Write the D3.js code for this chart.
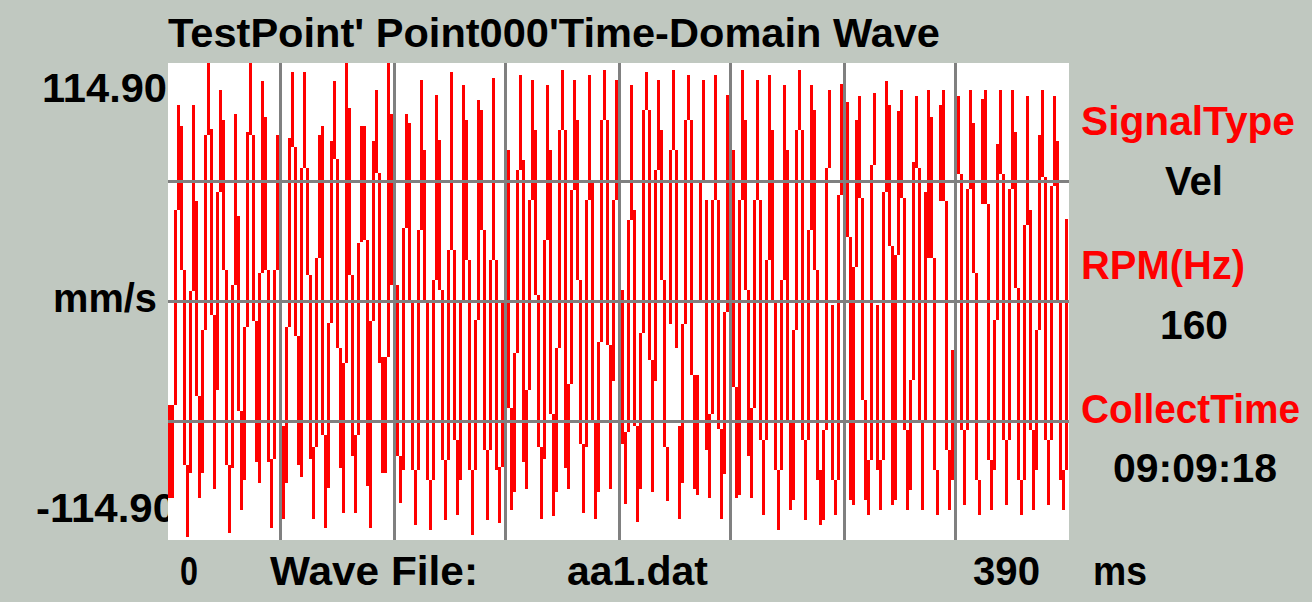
<!DOCTYPE html>
<html>
<head>
<meta charset="utf-8">
<script src="https://cdn.jsdelivr.net/npm/d3@7"></script>
<style>
  html, body { margin: 0; padding: 0; background: #c0c8c0; }
  svg { display: block; }
  text { font-family: "Liberation Sans", Arial, sans-serif; font-weight: bold; font-size: 41px; }
</style>
</head>
<body>
<svg id="chart" width="1312" height="602"></svg>
<script>
'use strict';

var title = "TestPoint' Point000'Time-Domain Wave";
var yLimit = 114.9;          // mm/s, full scale
var timeSpan = 390;          // ms
var columnCount = 300;       // one display column = 1.3 ms
var yLabels = ['114.90', 'mm/s', '-114.90'];
var infoLabels = ['SignalType', 'RPM(Hz)', 'CollectTime'];
var infoValues = ['Vel', '160', '09:09:18'];
var footer = ['0', 'Wave File:', 'aa1.dat', '390', 'ms'];

// peak envelope of the wave for each display column (mm/s)
var waveHi = [
  -49.5, -49.5, 43.8, 94.1, 84.0, 15.1, -78.3, 5.0, 94.1, 48.1,
  -45.2, -13.6, 79.7, 114.2, 82.6, -6.5, 52.4, 101.3, 86.9, 15.1,
  -78.3, 7.9, 89.8, 40.9, -52.4, -12.2, 81.1, 114.2, 79.7, -9.3,
  13.6, 105.5, 88.3, 15.1, -75.4, 15.1, 79.7, 100.0, -59.6, -12.2,
  78.3, 109.8, 74.0, -16.5, 63.9, 109.8, 63.9, 12.7, -69.7, 20.8,
  79.7, 84.0, -63.9, -10.3, 76.8, 105.5, 68.2, -22.3, -29.4, 114.2,
  92.6, 12.7, -63.9, 28.0, 84.0, 84.0, 29.4, -9.3, 76.8, 101.3,
  61.5, -26.6, -26.6, 114.2, 89.8, 7.9, 7.9, -74.0, 35.2, 89.8,
  85.5, 0.7, -80.7, 34.2, 106.0, 72.5, 0.7, -85.5, 10.3, 98.9,
  77.3, 5.5, -75.9, 24.7, 109.8, 24.7, -66.3, 0.7, 103.6, 86.9,
  19.9, -80.7, -8.9, 96.5, 91.7, 34.2, -71.1, 19.9, 107.0, 19.9,
  -79.2, 0.7, 101.3, 72.5, -51.0, -24.7, 63.0, 108.4, 67.7, -42.4,
  48.6, 106.0, 82.1, 3.1, -69.7, 29.4, 103.6, 72.5, -53.9, -22.3,
  82.1, 110.8, 82.1, -39.5, 53.4, 106.0, 86.9, 10.3, -68.2, 48.6,
  108.4, 58.2, -58.2, -19.4, 86.9, 110.8, 86.9, -20.8, 48.6, 106.0,
  82.1, 5.5, -62.5, 39.0, 103.6, 43.8, -59.6, -15.1, 91.7, 109.8,
  91.7, -28.0, 63.0, 106.0, 82.1, 10.3, -69.7, 72.5, 110.8, 72.5,
  -59.6, -10.8, 86.9, 108.4, 86.9, -35.2, -35.2, 58.2, 106.0, 48.6,
  -53.9, 48.6, 108.4, 48.6, -61.0, -5.0, 98.9, 113.2, 72.5, -40.9,
  48.6, 110.8, 86.9, 5.5, -51.0, 48.6, 106.0, 48.6, -66.3, 19.9,
  108.4, 82.1, 0.7, -80.7, 10.3, 103.6, 72.5, -56.7, -13.6, 82.1,
  110.8, 82.1, -66.3, 34.2, 103.6, 91.7, 15.1, -80.7, -61.5, 63.9,
  101.3, -1.7, -85.5, 51.0, 104.1, 51.0, 95.5, 30.9, 16.5, 86.9,
  98.4, 49.6, -47.2, -75.9, 65.3, 99.8, -1.7, -75.9, 52.4, 105.6,
  94.1, 26.6, 22.3, 91.2, 101.3, 49.6, -61.5, -37.6, 66.8, 98.4,
  63.9, -56.7, 52.4, 101.3, 88.3, 20.8, -80.7, 94.1, 101.3, 48.1,
  -71.1, -23.2, 72.5, 98.4, 61.0, -61.5, 53.9, 101.3, 85.5, 13.6,
  -85.5, 96.9, 101.3, 46.7, -75.9, -8.9, 75.4, 101.3, 61.0, -66.3,
  53.9, 101.3, 81.1, 6.5, -85.5, 36.6, 98.4, 43.8, -61.5, -13.6,
  79.7, 101.3, 59.6, -66.3, 55.3, 98.4, 76.8, 0.7, -80.7, 39.5
];
var waveLo = [
  -94.1, -94.1, -49.5, 43.8, 15.1, -78.3, -112.7, -82.1, 5.0, -45.2,
  -94.1, -82.1, -13.6, 79.7, -6.5, -89.8, -42.4, 52.4, 15.1, -78.3,
  -110.8, -79.7, 7.9, -52.4, -99.8, -85.5, -12.2, 79.7, -9.3, -76.8,
  -86.9, 13.6, 15.1, -76.8, -108.4, -75.4, 15.1, 20.0, -104.1, -86.9,
  -12.2, 74.0, -16.5, -78.3, -84.0, 63.9, 12.7, -75.4, -104.1, -69.7,
  20.8, -63.9, -108.4, -89.3, -10.3, 68.2, -22.3, -79.7, -101.3, -29.4,
  12.7, -74.0, -101.3, -63.9, 28.5, 29.4, -88.3, -108.4, -9.3, 61.5,
  -29.4, -82.1, -82.1, -26.6, 7.9, -60.0, -74.0, -96.5, -80.5, 35.2,
  0.7, -80.7, -107.0, -80.7, 34.2, 0.7, -85.5, -109.4, -85.5, 10.3,
  5.5, -75.9, -104.6, -75.9, 24.7, -66.3, -102.2, -85.5, 0.7, 19.9,
  -80.7, -111.8, -80.7, -8.9, 34.2, -71.1, -104.6, -71.1, 19.9, -80.7,
  -106.0, -79.2, 0.7, -51.0, -99.8, -91.2, -24.7, 63.0, -76.8, -89.8,
  -42.4, 48.6, 3.1, -69.7, -104.1, -75.4, 29.4, -53.9, -102.7, -91.2,
  -22.3, 82.1, -79.7, -89.8, -39.5, 53.4, 10.3, -68.2, -101.3, -69.7,
  48.6, -58.2, -104.1, -91.2, -19.4, 86.9, -20.8, -89.8, -38.1, 48.6,
  5.5, -68.2, -96.9, -62.5, 39.0, -59.6, -105.6, -89.8, -15.1, 91.7,
  -28.0, -91.2, -38.1, 63.0, 10.3, -69.7, -95.5, -10.8, 72.5, -22.3,
  -104.1, -86.9, -10.8, 86.9, -35.2, -89.8, -92.6, 0.7, 58.2, -71.1,
  -94.1, -53.9, 48.6, -61.0, -104.1, -82.6, -5.0, 72.5, -40.9, -94.1,
  -92.6, 48.6, 5.5, -74.0, -94.1, -51.0, 48.6, -66.3, -102.2, -66.3,
  19.9, 0.7, -80.7, -109.4, -80.7, 10.3, -56.7, -99.8, -95.0, -13.6,
  82.1, -66.3, -104.6, -66.3, 34.2, 15.1, -85.5, -107.0, -104.6, -61.5,
  63.9, -85.5, -102.2, -85.5, 51.0, -47.2, 30.9, -95.0, -97.4, 16.5,
  49.6, -47.2, -95.0, -102.2, -75.9, 65.3, -80.7, -99.8, -75.9, 52.4,
  26.6, -97.4, -95.0, 22.3, 49.6, -61.5, -99.8, -90.2, -37.6, 63.9,
  -56.7, -99.8, -56.7, 20.8, 20.8, -80.7, -102.2, 48.1, 48.1, -71.1,
  -99.8, -85.5, -23.2, 61.0, -61.5, -97.4, -61.5, 53.9, 13.6, -85.5,
  -102.2, 46.7, 46.7, -75.9, -99.8, -80.7, -8.9, 61.0, -66.3, -97.4,
  -66.3, 53.9, 6.5, -85.5, -102.2, -85.5, 36.6, -61.5, -99.8, -80.7,
  -13.6, 59.6, -66.3, -97.4, -66.3, 55.3, 0.7, -85.5, -99.8, -80.7
];

var svg = d3.select('#chart');

var plot = { left: 168, right: 1069, top: 63, bottom: 540 };

var x = d3.scaleLinear()
  .domain([0, timeSpan])
  .range([plot.left, plot.left + 900]);

var y = d3.scaleLinear()
  .domain([-yLimit, yLimit])
  .range([541.5, 61.5]);

var columnMs = timeSpan / columnCount;

// labels left of the plot go first: the plot box covers their right edge
function label(txt, px, py, len, color) {
  svg.append('text')
    .attr('x', px)
    .attr('y', py)
    .attr('fill', color || '#000')
    .attr('textLength', len)
    .attr('lengthAdjust', 'spacingAndGlyphs')
    .text(txt);
}

label(title, 168, 47, 772);
label(yLabels[0], 42, 102, 125);
label(yLabels[1], 53, 312, 104);
label(yLabels[2], 36, 522, 140);

svg.append('rect')
  .attr('x', plot.left)
  .attr('y', plot.top)
  .attr('width', plot.right - plot.left)
  .attr('height', plot.bottom - plot.top)
  .attr('fill', '#fff');

var wave = waveHi.map(function(hi, i) {
  return { t: i * columnMs, hi: hi, lo: waveLo[i] };
});

svg.append('g')
  .attr('class', 'wave')
  .selectAll('rect')
  .data(wave)
  .enter()
  .append('rect')
  .attr('x', function(d) { return Math.round(x(d.t)); })
  .attr('width', Math.round(x(columnMs) - x(0)))
  .attr('y', function(d) { return Math.round(y(d.hi)); })
  .attr('height', function(d) { return Math.max(3, Math.round(y(d.lo) - y(d.hi))); })
  .attr('fill', '#ff0000')
  .attr('shape-rendering', 'crispEdges');

// grid: 8 time divisions, 4 amplitude divisions
var gx = d3.range(1, 8).map(function(i) { return timeSpan * i / 8; });
var gy = [-yLimit / 2, 0, yLimit / 2];

var grid = svg.append('g').attr('class', 'grid').attr('fill', '#808080');

grid.selectAll('.gx')
  .data(gx)
  .enter()
  .append('rect')
  .attr('class', 'gx')
  .attr('x', function(d) { return Math.floor(x(d) / 3) * 3; })
  .attr('y', plot.top)
  .attr('width', 3)
  .attr('height', plot.bottom - plot.top);

grid.selectAll('.gy')
  .data(gy)
  .enter()
  .append('rect')
  .attr('class', 'gy')
  .attr('x', plot.left)
  .attr('y', function(d) { return Math.floor(y(d) / 3) * 3; })
  .attr('width', plot.right - plot.left)
  .attr('height', 3);

// info column on the right
label(infoLabels[0], 1081, 135, 214, '#ff0000');
label(infoValues[0], 1165, 195, 58);
label(infoLabels[1], 1081, 279, 164, '#ff0000');
label(infoValues[1], 1160, 339, 68);
label(infoLabels[2], 1081, 423, 219, '#ff0000');
label(infoValues[2], 1113, 482, 164);

// footer
label(footer[0], 180, 585, 18);
label(footer[1], 270, 585, 208);
label(footer[2], 567, 585, 141);
label(footer[3], 973, 585, 67);
label(footer[4], 1093, 585, 54);
</script>
</body>
</html>
